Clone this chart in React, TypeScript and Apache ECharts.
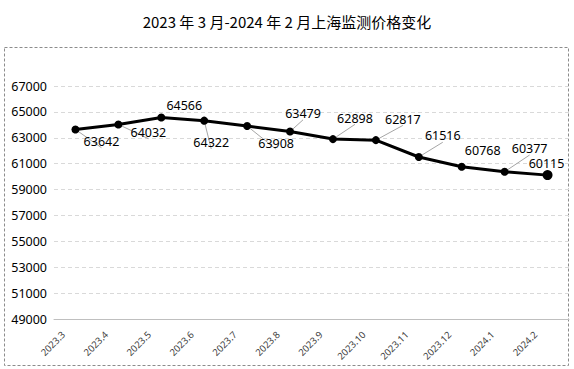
import React, { useEffect, useRef } from "react";
import * as echarts from "echarts";

const categories = ["2023.3", "2023.4", "2023.5", "2023.6", "2023.7", "2023.8", "2023.9", "2023.10", "2023.11", "2023.12", "2024.1", "2024.2"];
const values = [63642, 64032, 64566, 64322, 63908, 63479, 62898, 62817, 61516, 60768, 60377, 60115];
const titleText = "2023 年 3 月-2024 年 2 月上海监测价格变化";

const labelOffsets: number[][] = [
  [26, 12], [30, 8], [23, -12], [7, 22], [29, 17], [13, -18],
  [22, -21], [27, -21], [24, -21], [21, -16], [25, -23], [-1, -12],
];
const showLeader = [true, true, false, true, true, true, true, true, true, false, true, false];

export default function App() {
  const ref = useRef<HTMLDivElement>(null);
  useEffect(() => {
    if (!ref.current) return;
    const chart = echarts.init(ref.current, null, { renderer: "svg" });
    const font = "'Noto Sans', 'Noto Sans CJK SC', sans-serif";
    chart.setOption({
      animation: false,
      backgroundColor: "#ffffff",
      title: {
        text: titleText,
        left: "center",
        top: 9,
        textStyle: { fontFamily: "'Noto Sans CJK SC', sans-serif", fontSize: 15, fontWeight: "normal", color: "#000" },
      },
      graphic: [
        {
          type: "rect",
          shape: { x: 4.5, y: 47.5, width: 564, height: 318 },
          style: { fill: "none", stroke: "#8c8c8c", lineWidth: 1, lineDash: [3, 2] },
          silent: true,
          z: -1,
        },
      ],
      grid: { left: 54, right: 5, top: 86, bottom: 50 },
      xAxis: {
        type: "category",
        data: categories,
        boundaryGap: true,
        axisLine: { show: true, lineStyle: { color: "#bfbfbf", width: 1 } },
        axisTick: { show: false },
        axisLabel: {
          rotate: 45,
          interval: 0,
          margin: 2,
          padding: [0, 17, 0, 0],
          fontSize: 9.5,
          fontFamily: font,
          color: "#404040",
        },
      },
      yAxis: {
        type: "value",
        min: 49000,
        max: 67000,
        interval: 2000,
        axisLine: { show: false },
        axisTick: { show: false },
        axisLabel: {
          fontSize: 12.5,
          fontFamily: font,
          color: "#000",
          margin: 7,
          formatter: (v: number) => String(v),
        },
        splitLine: { show: true, lineStyle: { color: "#d9d9d9", type: [4, 3] } },
      },
      series: [
        {
          type: "line",
          data: values.map((v, i) => ({
            value: v,
            symbolSize: i === values.length - 1 ? 10 : 8,
            label: { offset: labelOffsets[i] },
            labelLine: { show: showLeader[i] },
          })),
          symbol: "circle",
          symbolSize: 8,
          itemStyle: { color: "#000" },
          lineStyle: { color: "#000", width: 3 },
          label: {
            show: true,
            position: "inside",
            fontSize: 12.5,
            fontFamily: font,
            color: "#000",
          },
          labelLine: { show: true, lineStyle: { color: "#a6a6a6", width: 1 } },
        },
      ],
    });
    return () => chart.dispose();
  }, []);
  return <div ref={ref} style={{ position: "fixed", left: 0, top: 0, width: 574, height: 369 }} />;
}
